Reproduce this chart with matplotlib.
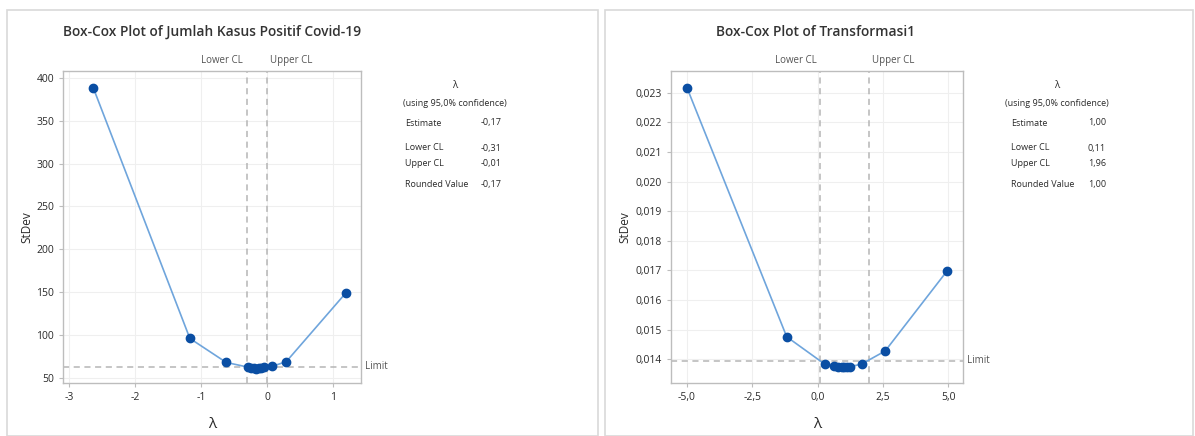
import matplotlib
matplotlib.use("Agg")
import matplotlib.pyplot as plt
from matplotlib.patches import Rectangle

plt.rcParams['font.family'] = ['Open Sans', 'DejaVu Sans']

# ---- data: left panel ----
left_title = "Box-Cox Plot of Jumlah Kasus Positif Covid-19"
left_lambda = [-2.63, -1.17, -0.62, -0.29, -0.24, -0.20, -0.17, -0.13, -0.09, -0.05, 0.08, 0.29, 1.19]
left_stdev = [388, 96, 68, 62.5, 61.5, 61.0, 60.8, 61.0, 61.5, 62.2, 63.5, 69, 149]
left_limit = 62.8
left_lcl, left_ucl = -0.31, -0.01
left_xticks = [-3, -2, -1, 0, 1]
left_xticklabels = ["-3", "-2", "-1", "0", "1"]
left_yticks = [50, 100, 150, 200, 250, 300, 350, 400]
left_yticklabels = ["50", "100", "150", "200", "250", "300", "350", "400"]
left_table = [("Estimate", "-0,17"), ("Lower CL", "-0,31"), ("Upper CL", "-0,01"), ("Rounded Value", "-0,17")]

# ---- data: right panel ----
right_title = "Box-Cox Plot of Transformasi1"
right_lambda = [-5.0, -1.18, 0.27, 0.62, 0.80, 0.92, 1.02, 1.12, 1.25, 1.69, 2.59, 4.95]
right_stdev = [0.02317, 0.01476, 0.01384, 0.01377, 0.01375, 0.01374, 0.01374, 0.01374, 0.01375, 0.01384, 0.01428, 0.01697]
right_limit = 0.01395
right_lcl, right_ucl = 0.11, 1.96
right_xticks = [-5.0, -2.5, 0.0, 2.5, 5.0]
right_xticklabels = ["-5,0", "-2,5", "0,0", "2,5", "5,0"]
right_yticks = [0.014, 0.015, 0.016, 0.017, 0.018, 0.019, 0.020, 0.021, 0.022, 0.023]
right_yticklabels = ["0,014", "0,015", "0,016", "0,017", "0,018", "0,019", "0,020", "0,021", "0,022", "0,023"]
right_table = [("Estimate", "1,00"), ("Lower CL", "0,11"), ("Upper CL", "1,96"), ("Rounded Value", "1,00")]

W, H = 1195, 436
fig = plt.figure(figsize=(W / 100, H / 100), dpi=100)
fig.patch.set_facecolor("white")

def px(x0, y0, x1, y1):
    return [x0 / W, 1 - y1 / H, (x1 - x0) / W, (y1 - y0) / H]

# panel frames
for (a, b) in [(7, 598), (605, 1193)]:
    fig.add_artist(Rectangle((a / W, 0), (b - a) / W, 1 - 10 / H, transform=fig.transFigure,
                             fill=False, edgecolor="#d9d9d9", linewidth=1.2))

LINE_C = "#6fa5dc"
MARK_C = "#0a4ea3"
GRID_C = "#efefef"
AX_C = "#bdbdbd"
TXT_C = "#2a2a2a"

def draw(rect, lam, sd, limit, lcl, ucl, xlim, ylim, xt, xtl, yt, ytl, title, title_x, table, tcol, ylab_x):
    ax = fig.add_axes(px(*rect))
    ax.plot(lam, sd, color=LINE_C, lw=1.2, zorder=3)
    ax.plot(lam, sd, 'o', color=MARK_C, ms=6, zorder=4)
    ax.axhline(limit, color="#b5b5b5", ls=(0, (4, 3)), lw=1.1, zorder=2)
    for v in (lcl, ucl):
        ax.axvline(v, color="#b5b5b5", ls=(0, (4, 3)), lw=1.1, zorder=2)
    ax.set_xlim(*xlim)
    ax.set_ylim(*ylim)
    ax.set_xticks(xt)
    ax.set_xticklabels(xtl)
    ax.set_yticks(yt)
    ax.set_yticklabels(ytl)
    ax.grid(True, color=GRID_C, lw=0.8, zorder=0)
    ax.set_axisbelow(True)
    for s in ax.spines.values():
        s.set_color(AX_C)
        s.set_linewidth(1.0)
    ax.tick_params(axis='both', colors=AX_C, labelcolor=TXT_C, labelsize=7.5, length=3, width=0.8)
    ax.set_xlabel("λ", fontsize=11, color=TXT_C, labelpad=10)
    ax.set_ylabel("StDev", fontsize=8.5, color=TXT_C)
    ax.yaxis.set_label_coords((ylab_x - rect[0]) / (rect[2] - rect[0]), 0.5)
    tr = ax.get_xaxis_transform()
    ax.text(lcl - (xlim[1] - xlim[0]) * 0.012, 1.015, "Lower CL", transform=tr, ha='right', va='bottom', fontsize=7, color="#555555")
    ax.text(ucl + (xlim[1] - xlim[0]) * 0.012, 1.015, "Upper CL", transform=tr, ha='left', va='bottom', fontsize=7, color="#555555")
    ax.text(1.012, limit, "Limit", transform=ax.get_yaxis_transform(), ha='left', va='center', fontsize=7, color="#555555")
    fig.text(title_x / W, 1 - 32 / H, title, ha='center', va='center', fontsize=9.9,
             fontweight='semibold', color="#333333")
    # table
    cx, lx, rx = tcol
    fig.text(cx / W, 1 - 85 / H, "λ", ha='center', va='center', fontsize=7, color=TXT_C)
    fig.text(cx / W, 1 - 104 / H, "(using 95,0% confidence)", ha='center', va='center', fontsize=6.5, color=TXT_C)
    ys = [123, 148, 163, 184]
    for (lab, val), y in zip(table, ys):
        fig.text(lx / W, 1 - y / H, lab, ha='left', va='center', fontsize=6.5, color=TXT_C)
        fig.text(rx / W, 1 - y / H, val, ha='right', va='center', fontsize=6.5, color=TXT_C)
    return ax

draw((63, 71, 361, 383), left_lambda, left_stdev, left_limit, left_lcl, left_ucl,
     (-3.09, 1.42), (44, 408), left_xticks, left_xticklabels, left_yticks, left_yticklabels,
     left_title, 212, left_table, (455, 405, 502), 33)

draw((671, 71, 963, 383), right_lambda, right_stdev, right_limit, right_lcl, right_ucl,
     (-5.61, 5.57), (0.0132, 0.02373), right_xticks, right_xticklabels, right_yticks, right_yticklabels,
     right_title, 816, right_table, (1057, 1011, 1106), 631)

fig.savefig("out.png", dpi=100)
